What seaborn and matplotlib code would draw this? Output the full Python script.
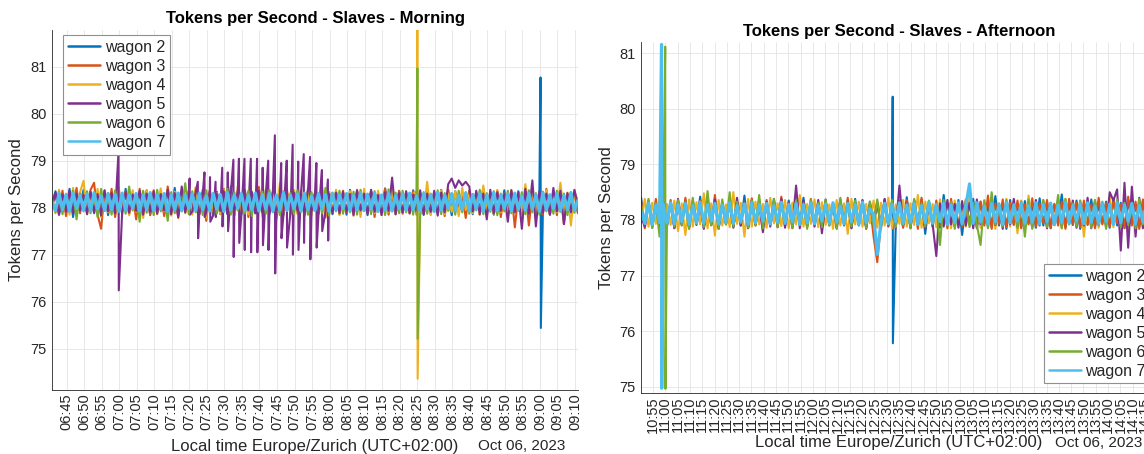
import matplotlib
matplotlib.use("Agg")
import matplotlib.pyplot as plt
import matplotlib.dates as mdates
import numpy as np
import pandas as pd
import seaborn as sns

# ---------------- data ----------------
wagons = ["wagon 2", "wagon 3", "wagon 4", "wagon 5", "wagon 6", "wagon 7"]
colors = ["#0072BD", "#D95319", "#EDB120", "#7E2F8E", "#77AC30", "#4DBEEE"]
day = "2023-10-06"

am_start = "2023-10-06 06:40:50"   # regular samples, one per minute
am_count = 151
pm_start = "2023-10-06 10:50:10"   # regular samples, one per 90 s
pm_count = 140

w2_am = [78.10, 78.35, 77.85, 78.30, 77.95, 78.40, 77.80, 78.25, 78.05, 78.38,
         77.90, 78.32, 77.88, 78.28, 78.02, 78.36, 77.84, 78.30, 77.96, 78.34,
         77.86, 78.40, 77.92, 78.26, 77.88, 78.33, 78.00, 78.37, 77.85, 78.29,
         77.94, 78.35, 77.87, 78.31, 77.90, 78.42, 77.83, 78.27, 77.97, 78.36,
         77.89, 78.30, 77.86, 78.38, 77.93, 78.28, 77.84, 78.34, 78.01, 78.39,
         77.87, 78.45, 77.90, 78.30, 77.85, 78.36, 77.92, 78.27, 77.88, 78.33,
         77.95, 78.38, 77.86, 78.29, 77.91, 78.35, 77.84, 78.31, 77.98, 78.37,
         77.88, 78.28, 77.85, 78.40, 77.94, 78.32, 77.87, 78.36, 77.90, 78.30,
         77.86, 78.34, 77.93, 78.27, 77.85, 78.38, 77.96, 78.33, 77.89, 78.29,
         77.84, 78.36, 77.92, 78.31, 77.87, 78.41, 77.95, 78.28, 77.86, 78.35,
         77.90, 78.30, 77.88, 78.37, 77.93, 78.32, 77.85, 78.34, 77.97, 78.29,
         77.87, 78.38, 77.91, 78.27, 77.84, 78.35, 77.94, 78.31, 77.88, 78.36,
         77.86, 78.30, 77.95, 78.40, 77.89, 78.28, 77.85, 78.33, 77.92, 78.37,
         77.87, 78.31, 77.90, 78.35, 77.86, 78.29, 77.93, 78.38, 77.88, 78.33,
         77.90, 78.34, 77.85, 78.30, 77.94, 78.36, 77.87, 78.28, 77.91, 78.33,
         77.89]
w3_am = [78.05, 78.30, 77.90, 78.36, 77.82, 78.25, 78.00, 78.42, 77.88, 78.30,
         77.95, 78.38, 78.53, 77.85, 77.55, 78.32, 77.92, 78.40, 77.80, 78.28,
         77.96, 78.35, 77.86, 78.27, 77.75, 78.40, 77.93, 78.30, 77.84, 78.37,
         77.90, 78.26, 77.82, 78.45, 77.95, 78.31, 77.78, 78.35, 77.89, 78.28,
         77.94, 78.42, 77.85, 78.30, 77.72, 78.36, 77.92, 78.29, 77.86, 78.40,
         77.97, 78.33, 77.83, 78.27, 77.90, 78.38, 77.80, 78.31, 77.94, 78.44,
         77.87, 78.28, 77.92, 78.35, 77.76, 78.30, 77.95, 78.39, 77.85, 78.26,
         77.91, 78.37, 77.82, 78.32, 77.96, 78.28, 77.88, 78.41, 77.79, 78.33,
         77.93, 78.29, 77.86, 78.36, 77.90, 78.31, 77.83, 78.38, 77.95, 78.27,
         77.88, 78.34, 77.80, 78.30, 77.92, 78.40, 77.85, 78.28, 77.94, 78.36,
         77.87, 78.31, 77.90, 78.35, 77.84, 78.29, 77.93, 78.37, 77.86, 78.32,
         77.91, 78.28, 77.82, 78.39, 77.95, 78.33, 77.88, 78.30, 77.78, 78.36,
         77.92, 78.29, 77.85, 78.41, 77.90, 78.32, 77.87, 78.37, 77.80, 78.30,
         77.94, 78.35, 77.58, 78.28, 77.89, 78.38, 77.62, 78.31, 77.93, 78.26,
         77.86, 78.40, 77.91, 78.33, 77.84, 78.36, 77.65, 78.29, 77.92, 78.35,
         77.88]
w4_am = [78.15, 77.88, 78.38, 77.92, 78.30, 77.85, 78.42, 77.95, 78.33, 78.57,
         77.86, 78.28, 77.93, 78.40, 77.80, 78.35, 77.90, 78.27, 77.87, 78.44,
         77.94, 78.31, 77.84, 78.37, 77.91, 78.29, 77.78, 78.36, 77.95, 78.32,
         77.86, 78.41, 77.92, 78.28, 77.83, 78.34, 77.96, 78.38, 77.88, 78.30,
         77.85, 78.43, 77.93, 78.27, 77.79, 78.36, 77.90, 78.31, 77.87, 78.39,
         77.95, 78.30, 77.84, 78.46, 77.92, 78.28, 77.86, 78.35, 77.93, 78.33,
         77.81, 78.40, 77.94, 78.29, 77.88, 78.52, 77.85, 78.32, 77.91, 78.37,
         77.87, 78.30, 77.95, 78.36, 77.83, 78.28, 77.92, 78.48, 77.86, 78.33,
         77.90, 78.38, 77.84, 78.29, 77.93, 78.35, 77.87, 78.31, 77.80, 78.40,
         77.94, 78.27, 77.88, 78.36, 77.85, 78.32, 77.91, 78.39, 77.86, 78.30,
         77.92, 78.34, 77.87, 78.29, 78.36, 77.88, 77.90, 78.55, 77.84, 78.31,
         77.93, 78.37, 77.86, 78.30, 77.91, 78.35, 77.82, 78.42, 77.95, 78.28,
         77.88, 78.33, 77.85, 78.47, 77.92, 78.30, 77.87, 78.36, 77.90, 78.29,
         77.84, 78.38, 77.93, 78.31, 77.86, 78.50, 77.91, 78.34, 77.88, 78.30,
         77.94, 78.37, 77.85, 78.29, 77.90, 78.53, 77.87, 78.32, 77.62, 78.36,
         78.10]
w5_am = [78.00, 78.32, 77.85, 78.28, 77.92, 78.36, 77.88, 78.30, 77.94, 78.27,
         77.86, 78.34, 77.90, 78.29, 77.83, 78.37, 77.92, 78.31, 77.87, 78.35,
         77.90, 78.33, 77.89, 78.28, 77.93, 78.36, 77.85, 78.30, 77.91, 78.35,
         77.87, 78.29, 77.94, 78.38, 77.86, 78.31, 77.80, 78.45, 77.90, 78.30,
         77.92, 78.34, 77.86, 78.30, 77.90, 78.37, 77.84, 78.29, 77.93, 78.35,
         77.87, 78.31, 77.91, 78.38, 77.85, 78.28, 77.94, 78.33, 77.88, 78.36,
         77.90, 78.30, 77.86, 78.35, 77.92, 78.29, 77.84, 78.37, 77.89, 78.32,
         77.93, 78.28, 77.87, 78.36, 77.90, 78.31, 77.85, 78.34, 77.92, 78.30,
         77.88, 78.32, 77.88, 78.34, 77.92, 78.29, 77.85, 78.36, 77.94, 78.30,
         77.87, 78.38, 77.91, 78.27, 77.84, 78.33, 77.93, 78.64, 77.86, 78.31,
         77.90, 78.35, 77.88, 78.28, 77.94, 78.37, 77.85, 78.30, 77.91, 78.36,
         77.83, 78.32, 77.90, 78.50, 78.62, 78.42, 78.58, 78.47, 78.55, 78.45,
         77.92, 78.36, 77.86, 78.30, 77.75, 78.38, 77.88, 78.33, 77.93, 78.29,
         77.70, 78.37, 77.91, 78.32, 77.55, 78.40, 77.87, 78.58, 77.60, 78.35,
         77.89, 78.30, 77.85, 78.42, 77.92, 78.36, 77.65, 78.31, 77.90, 78.38,
         78.05]
w6_am = [78.20, 77.90, 78.33, 77.86, 78.28, 77.94, 78.36, 77.75, 78.30, 77.92,
         78.35, 77.88, 78.29, 77.80, 78.40, 77.93, 78.31, 77.85, 78.37, 77.91,
         78.28, 77.87, 78.45, 77.94, 78.30, 77.70, 78.36, 77.89, 78.32, 77.84,
         78.38, 77.92, 78.27, 77.72, 78.33, 77.88, 78.30, 77.95, 78.52, 77.86,
         78.35, 77.90, 78.29, 77.84, 78.37, 77.93, 78.31, 77.87, 78.28, 77.91,
         78.40, 77.85, 78.33, 77.94, 78.30, 77.88, 78.36, 77.82, 78.29, 77.92,
         78.34, 77.87, 78.38, 77.90, 78.27, 77.84, 78.35, 77.93, 78.31, 77.86,
         78.37, 77.91, 78.29, 77.85, 78.33, 77.94, 78.30, 77.88, 78.42, 77.83,
         78.31, 77.92, 78.36, 77.87, 78.28, 77.90, 78.34, 77.85, 78.38, 77.93,
         78.30, 77.86, 78.35, 77.91, 78.27, 77.84, 78.39, 77.92, 78.32, 77.88,
         78.36, 77.90, 78.29, 77.85, 78.37, 77.86, 78.33, 77.87, 78.30, 77.92,
         78.37, 77.86, 78.31, 77.93, 78.28, 77.85, 78.36, 77.90, 78.33, 77.87,
         78.29, 77.94, 78.38, 77.86, 78.31, 77.91, 78.35, 77.84, 78.30, 77.92,
         78.36, 77.88, 78.29, 77.93, 78.33, 77.86, 78.37, 77.90, 78.31, 77.85,
         78.34, 77.92, 78.28, 77.87, 78.36, 77.91, 78.30, 77.84, 78.33, 77.89,
         78.20]
w7_am = [78.12, 77.94, 78.30, 77.96, 78.27, 77.92, 78.31, 77.98, 78.26, 77.95,
         78.29, 77.93, 78.32, 77.97, 78.25, 77.94, 78.30, 77.96, 78.28, 77.92,
         78.31, 77.95, 78.27, 77.98, 78.30, 77.93, 78.26, 77.96, 78.32, 77.94,
         78.28, 77.97, 78.30, 77.92, 78.27, 77.95, 78.31, 77.93, 78.26, 77.98,
         78.29, 77.94, 78.31, 77.96, 78.25, 77.93, 78.30, 77.97, 78.28, 77.92,
         78.32, 77.95, 78.27, 77.98, 78.30, 77.94, 78.26, 77.96, 78.31, 77.93,
         78.28, 77.97, 78.30, 77.92, 78.27, 77.95, 78.32, 77.94, 78.26, 77.98,
         78.29, 77.93, 78.31, 77.96, 78.25, 77.94, 78.30, 77.97, 78.28, 77.92,
         78.31, 77.95, 78.27, 77.98, 78.30, 77.93, 78.26, 77.96, 78.32, 77.94,
         78.28, 77.97, 78.30, 77.92, 78.27, 77.95, 78.31, 77.93, 78.26, 77.98,
         78.29, 77.94, 78.31, 77.96, 78.25, 77.93, 78.30, 77.97, 78.28, 77.92,
         78.32, 77.95, 78.27, 77.98, 78.30, 77.94, 78.26, 77.96, 78.31, 77.93,
         78.28, 77.97, 78.30, 77.92, 78.27, 77.95, 78.32, 77.94, 78.26, 77.98,
         78.29, 77.93, 78.31, 77.96, 78.25, 77.94, 78.30, 77.97, 78.28, 77.92,
         78.31, 77.95, 78.27, 77.98, 78.30, 77.93, 78.26, 77.96, 78.32, 77.94,
         78.15]

# short excursions (peak then trough a few seconds apart), morning
w2_am_spk_t = ["09:00:10", "09:00:15"]
w2_am_spk_v = [80.77, 75.44]
w4_am_spk_t = ["08:25:02", "08:25:07"]
w4_am_spk_v = [81.78, 74.36]
w6_am_spk_t = ["08:25:02", "08:25:07"]
w6_am_spk_v = [80.96, 75.21]
w5_am_spk_t = ["06:59:48", "06:59:53",
               "07:20:05", "07:20:10", "07:22:25", "07:22:30", "07:24:19", "07:24:24",
               "07:25:54", "07:25:59", "07:27:29", "07:27:34", "07:29:23", "07:29:28",
               "07:30:58", "07:31:03", "07:32:34", "07:32:39", "07:34:09", "07:34:14",
               "07:35:44", "07:35:49", "07:37:32", "07:37:37", "07:39:19", "07:39:24",
               "07:40:55", "07:41:00", "07:42:30", "07:42:35", "07:44:24", "07:44:29",
               "07:46:12", "07:46:17", "07:47:47", "07:47:52", "07:49:28", "07:49:33",
               "07:51:03", "07:51:08", "07:52:38", "07:52:43", "07:54:26", "07:54:31",
               "07:56:14", "07:56:19", "07:57:49", "07:57:54", "07:59:31", "07:59:36"]
w5_am_spk_v = [79.19, 76.24,
               78.62, 77.85, 78.55, 77.35, 78.75, 77.80,
               78.65, 77.70, 78.55, 77.80, 78.85, 77.60,
               78.75, 77.50, 79.02, 76.95, 79.04, 77.25,
               79.04, 77.10, 79.04, 77.05, 79.04, 77.05,
               78.85, 77.20, 79.00, 77.10, 79.54, 76.60,
               78.95, 77.35, 79.00, 77.15, 79.34, 77.00,
               78.98, 77.10, 79.14, 77.25, 79.08, 76.90,
               78.95, 77.15, 78.80, 77.50, 78.60, 77.30]

w2_pm = [78.40, 77.90, 78.35, 77.86, 78.30, 77.93, 78.38, 77.88, 78.33, 77.85,
         78.29, 77.92, 78.36, 77.87, 78.31, 77.94, 78.42, 77.86, 78.30, 77.91,
         78.37, 77.84, 78.28, 77.93, 78.35, 77.88, 78.32, 77.90, 78.44, 77.86,
         78.30, 77.92, 78.36, 77.85, 78.29, 77.94, 78.38, 77.87, 78.31, 77.90,
         78.35, 77.86, 78.28, 77.93, 78.40, 77.88, 78.33, 77.91, 78.30, 77.85,
         78.37, 77.92, 78.29, 77.87, 78.34, 77.94, 78.31, 77.86, 78.38, 77.90,
         78.28, 77.84, 78.33, 77.92, 78.30, 77.88, 78.36, 77.91, 78.33, 77.89,
         78.35, 77.87, 78.41, 77.85, 78.30, 77.93, 78.37, 77.75, 78.32, 77.90,
         78.29, 77.86, 78.45, 77.92, 78.31, 77.88, 78.36, 77.73, 78.30, 77.91,
         78.38, 77.85, 78.33, 77.93, 78.28, 77.87, 78.43, 77.90, 78.31, 77.84,
         78.36, 77.92, 78.29, 77.88, 78.34, 77.94, 78.30, 77.86, 78.39, 77.90,
         78.32, 77.85, 78.28, 77.93, 78.46, 77.87, 78.31, 77.91, 78.35, 77.84,
         78.30, 77.92, 78.37, 77.88, 78.29, 77.94, 78.33, 77.86, 78.38, 77.90,
         78.31, 77.85, 78.36, 77.92, 78.28, 77.87, 78.34, 77.93, 78.30, 77.88]
w3_pm = [78.35, 77.85, 78.30, 77.92, 78.38, 77.88, 78.27, 77.94, 78.36, 77.86,
         78.31, 77.90, 78.40, 77.84, 78.29, 77.93, 78.35, 77.87, 78.32, 77.91,
         78.45, 77.85, 78.30, 77.92, 78.37, 77.88, 78.28, 77.94, 78.33, 77.86,
         78.39, 77.90, 78.31, 77.84, 78.36, 77.93, 78.29, 77.87, 78.42, 77.91,
         78.30, 77.85, 78.35, 77.92, 78.28, 77.88, 78.38, 77.94, 78.31, 77.86,
         78.36, 77.90, 78.29, 77.84, 78.33, 77.93, 78.40, 77.87, 78.30, 77.91,
         78.35, 77.85, 78.28, 77.70, 77.24, 77.95, 78.37, 77.88, 78.31, 77.94,
         78.29, 77.86, 78.36, 77.90, 78.33, 77.84, 78.40, 77.93, 78.30, 77.87,
         78.35, 77.91, 78.28, 77.85, 78.38, 77.92, 78.31, 77.88, 78.36, 77.94,
         78.29, 77.86, 78.33, 77.90, 78.44, 77.84, 78.30, 77.93, 78.37, 77.87,
         78.31, 77.91, 78.35, 77.85, 78.28, 77.92, 78.39, 77.88, 78.30, 77.94,
         78.36, 77.86, 78.29, 77.90, 78.33, 77.84, 78.38, 77.93, 78.31, 77.87,
         78.35, 77.91, 78.28, 77.85, 78.40, 77.92, 78.30, 77.88, 78.36, 77.94,
         78.29, 77.86, 78.42, 77.90, 78.33, 77.84, 78.37, 77.93, 78.31, 77.87]
w4_pm = [77.95, 78.38, 77.88, 78.31, 77.93, 78.42, 77.86, 78.29, 77.91, 78.35,
         77.80, 78.30, 77.73, 78.37, 77.88, 78.32, 77.92, 78.48, 77.85, 78.30,
         77.72, 78.36, 77.90, 78.28, 77.87, 78.50, 77.93, 78.31, 77.70, 78.38,
         77.88, 78.33, 77.92, 78.29, 77.86, 78.40, 77.94, 78.30, 77.89, 78.36,
         77.85, 78.31, 77.92, 78.45, 77.88, 78.29, 77.93, 78.37, 77.87, 78.32,
         77.91, 78.28, 77.84, 78.36, 77.90, 78.30, 77.75, 78.38, 77.92, 78.33,
         77.88, 78.29, 77.94, 78.35, 77.86, 78.31, 77.90, 78.40, 77.85, 78.28,
         77.93, 78.36, 77.88, 78.30, 77.91, 78.45, 77.86, 78.33, 77.94, 78.29,
         77.87, 78.37, 77.90, 78.31, 77.85, 78.35, 77.92, 78.28, 77.88, 78.42,
         77.93, 78.30, 77.86, 78.36, 77.90, 78.32, 77.84, 78.29, 77.92, 78.38,
         77.88, 78.31, 77.76, 78.35, 77.86, 78.44, 77.91, 78.30, 77.93, 78.36,
         77.87, 78.29, 77.90, 78.33, 77.85, 78.38, 77.92, 78.31, 77.88, 78.35,
         77.70, 78.30, 77.93, 78.36, 77.86, 78.29, 77.91, 78.42, 77.87, 78.33,
         77.92, 78.30, 77.85, 78.37, 77.90, 78.31, 77.88, 78.35, 77.93, 78.29]
w5_pm = [78.05, 77.88, 78.33, 77.92, 78.29, 77.85, 78.36, 77.90, 78.31, 77.86,
         78.38, 77.93, 78.30, 77.87, 78.35, 77.91, 78.28, 77.84, 78.33, 77.92,
         78.37, 77.88, 78.31, 77.94, 78.29, 77.86, 78.40, 77.90, 78.32, 77.85,
         78.36, 77.92, 78.29, 77.78, 78.33, 77.88, 78.31, 77.94, 78.38, 77.86,
         78.30, 77.90, 78.62, 77.85, 78.35, 77.92, 78.28, 77.88, 78.36, 77.76,
         78.31, 77.93, 78.29, 77.87, 78.37, 77.90, 78.33, 77.85, 78.30, 77.92,
         78.36, 77.88, 78.29, 77.94, 78.33, 77.86, 78.38, 77.90, 78.31, 77.85,
         78.62, 77.92, 78.30, 77.87, 78.36, 77.91, 78.29, 77.84, 78.33, 77.93,
         77.35, 78.30, 77.88, 78.36, 77.92, 78.29, 77.86, 78.34, 77.90, 78.31,
         77.85, 78.37, 77.93, 78.30, 77.87, 78.35, 77.91, 78.28, 77.84, 78.33,
         77.92, 78.38, 77.88, 78.31, 77.94, 78.29, 77.86, 78.36, 77.90, 78.32,
         77.85, 78.30, 77.92, 78.37, 77.88, 78.29, 77.93, 78.35, 77.86, 78.31,
         77.90, 78.40, 77.85, 78.33, 77.92, 78.30, 77.88, 78.50, 78.35, 78.55,
         77.45, 78.67, 77.50, 78.60, 77.70, 78.40, 77.85, 78.35, 77.90, 78.32]
w6_pm = [78.25, 77.92, 78.38, 77.86, 78.30, 77.70, 78.35, 77.90, 78.33, 77.88,
         78.36, 77.91, 78.29, 77.85, 78.40, 77.93, 78.31, 77.87, 78.52, 77.90,
         78.30, 77.84, 78.37, 77.92, 78.50, 77.88, 78.33, 77.94, 78.29, 77.86,
         78.36, 77.90, 78.45, 77.85, 78.30, 77.92, 78.38, 77.88, 78.31, 77.94,
         78.29, 77.86, 78.35, 77.91, 78.30, 77.84, 78.37, 77.93, 78.31, 77.87,
         78.36, 77.90, 78.28, 77.85, 78.40, 77.92, 78.31, 77.88, 78.35, 77.94,
         78.29, 77.86, 78.33, 77.90, 78.37, 77.84, 78.30, 77.93, 78.36, 77.87,
         78.31, 77.91, 78.28, 77.85, 78.38, 77.92, 78.30, 77.88, 78.35, 77.94,
         78.29, 77.55, 78.36, 77.90, 78.33, 77.84, 78.30, 77.93, 78.37, 77.87,
         78.31, 77.91, 77.55, 78.35, 77.85, 78.50, 77.92, 78.30, 77.88, 78.36,
         77.94, 78.29, 77.86, 78.33, 77.70, 78.37, 77.84, 78.30, 77.93, 78.36,
         77.87, 78.31, 77.91, 78.45, 77.85, 78.38, 77.92, 78.30, 77.88, 78.35,
         77.94, 78.29, 77.86, 78.36, 77.90, 78.33, 77.84, 78.30, 77.93, 78.37,
         77.87, 78.31, 77.91, 78.28, 77.85, 78.38, 77.92, 78.30, 77.88, 78.35]
w7_pm = [78.15, 77.94, 78.30, 77.92, 78.27, 77.95, 78.29, 77.95, 78.31, 77.93,
         78.28, 77.97, 78.30, 77.92, 78.26, 77.95, 78.32, 77.94, 78.28, 77.98,
         78.30, 77.93, 78.27, 77.96, 78.31, 77.94, 78.26, 77.97, 78.29, 77.92,
         78.31, 77.95, 78.28, 77.98, 78.30, 77.93, 78.26, 77.96, 78.32, 77.94,
         78.28, 77.97, 78.30, 77.92, 78.27, 77.95, 78.31, 77.93, 78.26, 77.98,
         78.29, 77.94, 78.31, 77.96, 78.25, 77.93, 78.30, 77.97, 78.28, 77.92,
         78.32, 77.95, 78.20, 78.10, 77.38, 77.96, 78.30, 77.93, 78.28, 77.97,
         78.31, 77.94, 78.27, 77.96, 78.30, 77.92, 78.26, 77.95, 78.32, 77.94,
         78.28, 77.97, 78.30, 77.92, 78.27, 77.95, 78.31, 77.93, 78.26, 78.65,
         77.94, 78.31, 77.96, 78.25, 77.93, 78.30, 77.97, 78.28, 77.92, 78.32,
         77.95, 78.27, 77.98, 78.30, 77.94, 78.26, 77.96, 78.31, 77.93, 78.28,
         77.97, 78.30, 77.92, 78.27, 77.95, 78.32, 77.94, 78.26, 77.98, 78.29,
         77.93, 78.31, 77.96, 78.25, 77.94, 78.30, 77.97, 78.28, 77.92, 78.31,
         77.95, 78.27, 77.98, 78.30, 77.93, 78.26, 77.96, 78.32, 77.94, 78.28]

# short excursions, afternoon
w2_pm_spk_t = ["12:32:26", "12:32:31"]
w2_pm_spk_v = [80.22, 75.78]
w6_pm_spk_t = ["10:59:58", "11:00:03"]
w6_pm_spk_v = [81.12, 74.96]
w7_pm_spk_t = ["10:58:28", "10:58:33"]
w7_pm_spk_v = [81.16, 74.97]

am_series = [w2_am, w3_am, w4_am, w5_am, w6_am, w7_am]
am_spikes = [(w2_am_spk_t, w2_am_spk_v), ([], []), (w4_am_spk_t, w4_am_spk_v),
             (w5_am_spk_t, w5_am_spk_v), (w6_am_spk_t, w6_am_spk_v), ([], [])]
pm_series = [w2_pm, w3_pm, w4_pm, w5_pm, w6_pm, w7_pm]
pm_spikes = [(w2_pm_spk_t, w2_pm_spk_v), ([], []), ([], []),
             ([], []), (w6_pm_spk_t, w6_pm_spk_v), (w7_pm_spk_t, w7_pm_spk_v)]

am_xlim = ("2023-10-06 06:40:50", "2023-10-06 09:10:51")
pm_xlim = ("2023-10-06 10:50:07", "2023-10-06 14:19:53")
am_ylim = (74.12, 81.78)
pm_ylim = (74.89, 81.21)
yticks = [75, 76, 77, 78, 79, 80, 81]


def long_frame(start, count, freq, series, spikes):
    t = pd.date_range(start, periods=count, freq=freq)
    parts = []
    for name, vals, (st, sv) in zip(wagons, series, spikes):
        parts.append(pd.DataFrame({"time": t, "tps": vals, "wagon": name}))
        if st:
            parts.append(pd.DataFrame({"time": pd.to_datetime([day + " " + s for s in st]),
                                       "tps": sv, "wagon": name}))
    df = pd.concat(parts, ignore_index=True)
    return df.sort_values(["wagon", "time"]).reset_index(drop=True)


df_am = long_frame(am_start, am_count, "60s", am_series, am_spikes)
df_pm = long_frame(pm_start, pm_count, "90s", pm_series, pm_spikes)

# ---------------- figure ----------------
sns.set_theme(style="white")
plt.rcParams["font.family"] = ["Liberation Sans", "DejaVu Sans"]

W, H = 1144, 454
fig = plt.figure(figsize=(W / 100, H / 100), dpi=100)
fig.patch.set_facecolor("white")

ax1 = fig.add_axes([52 / W, (H - 390) / H, 526 / W, 360 / H])
ax2 = fig.add_axes([641 / W, (H - 392.7) / H, 516 / W, 351 / H])

TXT = "#262626"


def style_axes(ax, df, xlim, ylim, title, title_off, legend_loc, legend_anchor,
               ylab_x, xlab_y, date_x):
    sns.lineplot(data=df, x="time", y="tps", hue="wagon", hue_order=wagons,
                 palette=colors, estimator=None, linewidth=1.5, ax=ax,
                 legend=True)
    # the dense wagon 7 trace reads as a solid band in the original
    ax.lines[len(wagons) - 1].set_linewidth(2.3)
    ax.set_xlim(pd.Timestamp(xlim[0]), pd.Timestamp(xlim[1]))
    ax.set_ylim(*ylim)
    ax.set_yticks(yticks)
    ax.xaxis.set_major_locator(mdates.MinuteLocator(byminute=range(0, 60, 5)))
    ax.xaxis.set_major_formatter(mdates.DateFormatter("%H:%M"))
    for lab in ax.get_xticklabels():
        lab.set_rotation(90)
    ax.tick_params(axis="both", direction="in", length=4, width=0.6,
                   colors=TXT, labelsize=10.5)
    ax.tick_params(axis="x", pad=2.5)
    ax.tick_params(axis="y", pad=4)
    ax.grid(True, color="#e4e4e4", linewidth=0.6)
    ax.set_axisbelow(True)
    for s in ["top", "right"]:
        ax.spines[s].set_visible(False)
    for s in ["left", "bottom"]:
        ax.spines[s].set_color(TXT)
        ax.spines[s].set_linewidth(0.6)

    ax.set_ylabel("Tokens per Second", fontsize=12, color=TXT)
    ax.yaxis.set_label_coords(ylab_x, 0.5)
    ax.yaxis.label.set_verticalalignment("center")
    ax.set_xlabel("Local time Europe/Zurich (UTC+02:00)", fontsize=12, color=TXT)
    ax.xaxis.set_label_coords(0.5, xlab_y)
    ax.xaxis.label.set_verticalalignment("center")
    ax.text(date_x, xlab_y, "Oct 06, 2023", transform=ax.transAxes,
            ha="right", va="center", fontsize=11, color=TXT)

    ax.set_title(title, fontsize=12, fontweight="bold", color="#000000",
                 y=1 + title_off, pad=0, va="center")

    handles, labels = ax.get_legend_handles_labels()
    leg = ax.legend(handles, labels, loc=legend_loc, bbox_to_anchor=legend_anchor,
                    borderaxespad=0, fontsize=11.5, handlelength=2.0,
                    handletextpad=0.3, labelspacing=0.25, borderpad=0.3,
                    fancybox=False, framealpha=1, edgecolor="#909090")
    leg.get_frame().set_linewidth(0.8)
    for h in leg.get_lines():
        h.set_linewidth(1.8)
    for t in leg.get_texts():
        t.set_color(TXT)


style_axes(ax1, df_am, am_xlim, am_ylim, "Tokens per Second - Slaves - Morning",
           12 / 360, "upper left", ((63.3 - 52) / 526, 1 - 5 / 360),
           (17 - 52) / 526, -(446 - 390) / 360, (565 - 52) / 526)
style_axes(ax2, df_pm, pm_xlim, pm_ylim, "Tokens per Second - Slaves - Afternoon",
           10 / 351, "lower left", ((1044 - 641) / 516, (392.7 - 383.3) / 351),
           (606 - 641) / 516, -(443 - 392.7) / 351, (1142 - 641) / 516)

fig.savefig("out.png", dpi=100, facecolor="white")
